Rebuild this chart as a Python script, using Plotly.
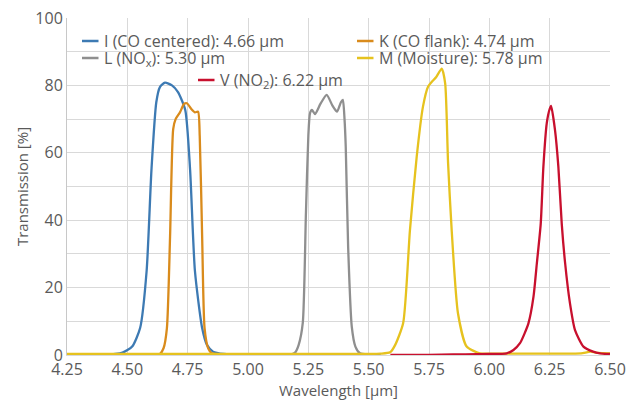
import plotly.graph_objects as go

# ---------------- data ----------------
wl_I = [4.25, 4.40, 4.45, 4.48, 4.52, 4.553, 4.58, 4.60, 4.62, 4.635, 4.656, 4.685, 4.71, 4.74, 4.76, 4.78, 4.81, 4.83, 4.855, 4.90, 5.00]
t_I = [0, 0.1, 0.3, 0.7, 2.5, 8, 25, 55, 75, 79.5, 80.8, 80, 78, 72.7, 55, 25, 8, 3, 1, 0.3, 0]

wl_K = [4.25, 4.60, 4.635, 4.65, 4.664, 4.677, 4.69, 4.70, 4.718, 4.735, 4.747, 4.765, 4.78, 4.793, 4.80, 4.81, 4.82, 4.835, 4.85, 4.90, 5.00]
t_K = [0, 0, 0.3, 2, 8, 35, 67, 70, 72, 74.5, 74.7, 73, 72, 72.2, 65, 35, 8, 2, 0.5, 0.1, 0]

wl_L = [5.00, 5.15, 5.18, 5.195, 5.21, 5.227, 5.24, 5.25, 5.257, 5.265, 5.278, 5.30, 5.326, 5.35, 5.369, 5.385, 5.393, 5.40, 5.405, 5.415, 5.43, 5.445, 5.464, 5.50, 5.55]
t_L = [0, 0, 0.2, 0.7, 3, 9.5, 42, 65, 71.8, 72.7, 71.5, 74.5, 77.2, 74, 72.2, 75, 75.7, 70, 61.8, 32, 8.4, 2.5, 0.5, 0.1, 0]

wl_M = [4.25, 5.00, 5.30, 5.55, 5.589, 5.61, 5.643, 5.671, 5.699, 5.725, 5.746, 5.761, 5.78, 5.803, 5.817, 5.829, 5.844, 5.87, 5.906, 5.96, 6.00, 6.10, 6.20, 6.30, 6.38, 6.42, 6.45, 6.50]
t_M = [0.3, 0.3, 0.3, 0.4, 0.8, 3, 9.5, 37, 58.8, 73.7, 79.6, 81, 82.5, 85, 80.6, 57, 37, 12.4, 2.5, 0.5, 0.4, 0.4, 0.4, 0.4, 0.5, 1.0, 0.6, 0.5]

wl_V = [5.59, 5.70, 5.80, 5.90, 6.00, 6.072, 6.10, 6.127, 6.162, 6.183, 6.197, 6.213, 6.224, 6.238, 6.25, 6.256, 6.272, 6.286, 6.30, 6.314, 6.334, 6.355, 6.39, 6.43, 6.459, 6.50]
t_V = [0, 0, 0.1, 0.2, 0.3, 0.5, 1.5, 3.5, 9.4, 17.3, 27.3, 39, 55.9, 68.8, 73, 73.9, 66.8, 55.9, 39, 27.3, 15.4, 7.4, 2.5, 1, 0.5, 0.3]

names = ["I (CO centered): 4.66 µm", "K (CO flank): 4.74 µm", "L (NO<sub>x</sub>): 5.30 µm",
         "M (Moisture): 5.78 µm", "V (NO<sub>2</sub>): 6.22 µm"]
colors = ["#3d7ab3", "#d98b1c", "#8f8f8f", "#e6c21e", "#c8102e"]

series = [(wl_I, t_I), (wl_K, t_K), (wl_L, t_L), (wl_M, t_M), (wl_V, t_V)]

FONT = "Open Sans"
TXT = "#5a5a5a"
GRID = "#d9d9d9"

# page body adds an 8px offset; compensate so the plot lands where the reference has it
OFF = 8
W, H = 641 - OFF, 403 - OFF
L, R, T, B = 67, 610, 18, 355   # plot area in screen pixels

fig = go.Figure()
for (x, y), n, c in zip(series, names, colors):
    fig.add_trace(go.Scatter(x=x, y=y, mode="lines", name=n, showlegend=False,
                             line=dict(color=c, width=2.3, shape="spline", smoothing=0.6)))

# ---------------- manual legend ----------------
def px(xp):
    return (xp - L) / (R - L)
def py(yp):
    return (B - yp) / (B - T)

# white legend backgrounds (drawn over the grid, under the curves)
for (bx0, bx1, by0, by1) in [(76, 604, 29, 66), (192, 372, 70, 90)]:
    fig.add_shape(type="rect", xref="x domain", yref="y domain", layer="below",
                  x0=px(bx0), x1=px(bx1), y0=py(by1), y1=py(by0),
                  fillcolor="white", line=dict(width=0))

legend_pos = [  # (line x0, y) in screen pixels, for I, K, L, M, V
    (82, 41), (357, 41), (82, 58), (357, 58), (198, 80)
]
for (x0, y0), n, c in zip(legend_pos, names, colors):
    fig.add_shape(type="line", xref="paper", yref="paper",
                  x0=px(x0), x1=px(x0 + 16.5), y0=py(y0), y1=py(y0),
                  line=dict(color=c, width=2.5))
    fig.add_annotation(xref="paper", yref="paper", x=px(x0 + 20), y=py(y0),
                       xanchor="left", yanchor="middle", showarrow=False,
                       text=n, font=dict(family=FONT, size=16, color=TXT))

fig.update_layout(
    width=W, height=H,
    margin=dict(l=L - OFF, r=641 - R, t=T - OFF, b=403 - B, pad=0, autoexpand=False),
    paper_bgcolor="white", plot_bgcolor="white",
    font=dict(family=FONT, size=15, color=TXT),
    showlegend=False,
)
fig.update_xaxes(range=[4.25, 6.5], tick0=4.25, dtick=0.25, tickformat=".2f",
                 showgrid=True, gridcolor=GRID, gridwidth=1, automargin=False,
                 showline=True, linecolor=GRID, linewidth=1, zeroline=False,
                 ticks="", ticklen=0, ticklabeloverflow="allow",
                 title=dict(text="Wavelength [µm]", font=dict(size=15, color=TXT), standoff=2),
                 tickfont=dict(size=16, color=TXT))
fig.update_yaxes(range=[0, 100], dtick=20, showgrid=True, gridcolor=GRID, gridwidth=1,
                 minor=dict(dtick=10, showgrid=True, gridcolor=GRID, gridwidth=1),
                 showline=True, linecolor="#c8c8c8", linewidth=1, zeroline=False,
                 ticks="", ticklabeloverflow="allow", automargin=False,
                 title=dict(text="Transmission [%]", font=dict(size=15, color=TXT), standoff=3),
                 tickfont=dict(size=16, color=TXT))

fig.write_html("out.html")
